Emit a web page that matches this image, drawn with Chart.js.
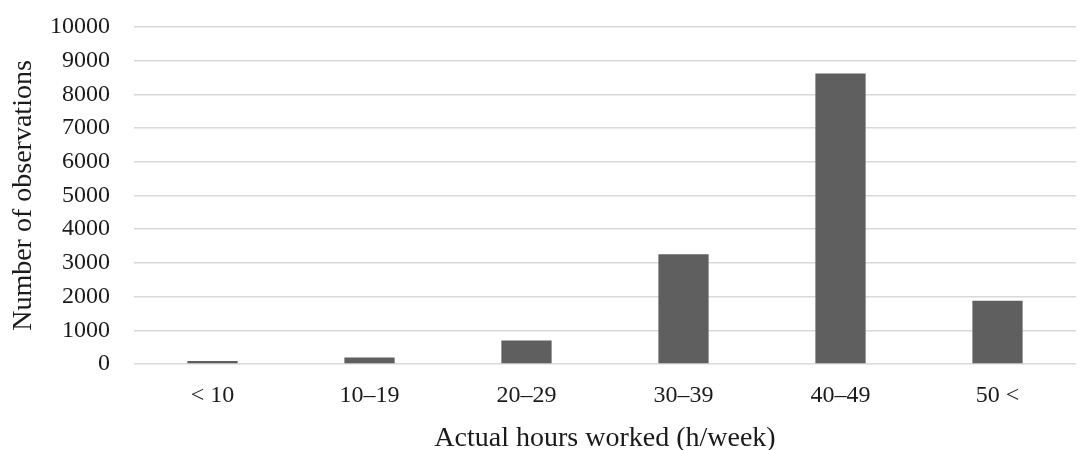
<!DOCTYPE html>
<html>
<head>
<meta charset="utf-8">
<script src="https://cdn.jsdelivr.net/npm/chart.js@4/dist/chart.umd.min.js"></script>
<style>
  html, body { margin: 0; padding: 0; background: #fff; }
  #wrap { width: 1079px; height: 450px; }
</style>
</head>
<body>
<div id="wrap"><canvas id="hoursChart" width="1079" height="450"></canvas></div>
<script>
// hours-worked histogram
const categories = ['< 10', '10\u201319', '20\u201329', '30\u201339', '40\u201349', '50 <'];
const observations = [90, 190, 700, 3260, 8620, 1880];
const yTicks = [0, 1000, 2000, 3000, 4000, 5000, 6000, 7000, 8000, 9000, 10000];

const serif = '"Liberation Serif", "Times New Roman", serif';
const textColor = '#1a1a1a';

new Chart(document.getElementById('hoursChart').getContext('2d'), {
    type: 'bar',
    data: {
        labels: categories,
        datasets: [{
            label: 'Number of observations',
            data: observations,
            backgroundColor: '#5f5f5f',
            borderWidth: 0,
            barPercentage: 0.32,
            categoryPercentage: 1.0
        }]
    },
    options: {
        responsive: false,
        animation: false,
        layout: { padding: { top: 27, right: 3, bottom: 0, left: 2 } },
        plugins: {
            legend: { display: false },
            tooltip: { enabled: false }
        },
        scales: {
            x: {
                grid: { display: false, drawTicks: false },
                border: { display: false },
                ticks: {
                    color: textColor,
                    padding: 20,
                    font: { family: serif, size: 24, lineHeight: 1 }
                },
                title: {
                    display: true,
                    text: 'Actual hours worked (h/week)',
                    color: textColor,
                    padding: { top: -3, bottom: -3 },
                    font: { family: serif, size: 28, lineHeight: 1 }
                }
            },
            y: {
                min: 0,
                max: 10000,
                afterBuildTicks: axis => { axis.ticks = yTicks.map(v => ({ value: v })); },
                grid: { color: '#d9d9d9', lineWidth: 1.6, drawTicks: false },
                border: { display: false },
                ticks: {
                    color: textColor,
                    padding: 24,
                    autoSkip: false,
                    callback: v => String(v),
                    // tiny lineHeight so the top label doesn't push the plot down
                    font: { family: serif, size: 24, lineHeight: 0.1 }
                },
                title: {
                    display: true,
                    text: 'Number of observations',
                    color: textColor,
                    padding: { top: 8, bottom: -12 },
                    font: { family: serif, size: 28, lineHeight: 1 }
                }
            }
        }
    }
});
</script>
</body>
</html>
